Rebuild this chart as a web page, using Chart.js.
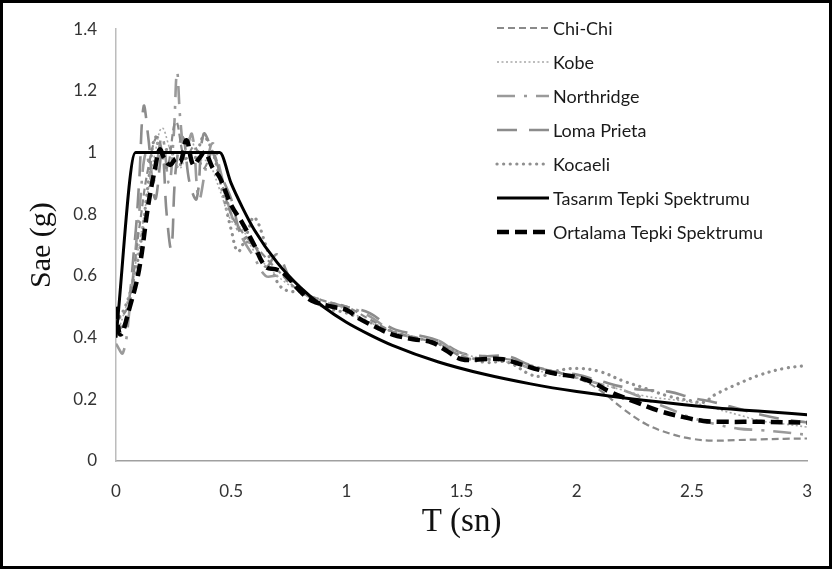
<!DOCTYPE html>
<html>
<head>
<meta charset="utf-8">
<script src="https://cdn.jsdelivr.net/npm/chart.js@4.4.1/dist/chart.umd.min.js"></script>
<style>
  html, body { margin: 0; padding: 0; background: #fff; }
  #wrap { width: 832px; height: 569px; position: relative; }
</style>
</head>
<body>
<div id="wrap"><canvas id="c" width="832" height="569"></canvas></div>
<script>
// ---- Data ----
const xTickLabels = ["0", "0.5", "1", "1.5", "2", "2.5", "3"];
const yTickLabels = ["0", "0.2", "0.4", "0.6", "0.8", "1", "1.2", "1.4"];

const seriesNames = ["Chi-Chi", "Kobe", "Northridge", "Loma Prieta", "Kocaeli",
                     "Tasarım Tepki Spektrumu", "Ortalama Tepki Spektrumu"];

const chiChiT  = [0, 0.05, 0.1, 0.14, 0.18, 0.22, 0.26, 0.3, 0.34, 0.38, 0.42, 0.46, 0.5, 0.55, 0.6, 0.7, 0.8, 0.9, 1.0, 1.1, 1.2, 1.3, 1.4, 1.5, 1.6, 1.7, 1.8, 1.9, 2.0, 2.1, 2.2, 2.3, 2.4, 2.5, 2.6, 2.7, 2.8, 2.9, 3.0];
const chiChiSa = [0.45, 0.5, 0.75, 0.95, 1.05, 0.95, 1.1, 0.98, 1.02, 0.95, 1.0, 0.9, 0.8, 0.74, 0.7, 0.62, 0.55, 0.52, 0.5, 0.46, 0.42, 0.4, 0.38, 0.34, 0.33, 0.33, 0.31, 0.29, 0.27, 0.23, 0.17, 0.12, 0.09, 0.072, 0.066, 0.068, 0.07, 0.072, 0.073];

const kobeT  = [0, 0.05, 0.1, 0.14, 0.17, 0.2, 0.24, 0.28, 0.32, 0.36, 0.4, 0.45, 0.5, 0.55, 0.6, 0.7, 0.8, 0.9, 1.0, 1.1, 1.2, 1.3, 1.4, 1.5, 1.6, 1.7, 1.8, 1.9, 2.0, 2.1, 2.2, 2.3, 2.4, 2.5, 2.6, 2.7, 2.8, 2.9, 3.0];
const kobeSa = [0.4, 0.52, 0.7, 0.88, 1.0, 1.08, 1.0, 0.95, 1.05, 0.98, 0.97, 0.88, 0.78, 0.75, 0.68, 0.6, 0.55, 0.52, 0.49, 0.45, 0.42, 0.4, 0.38, 0.35, 0.33, 0.32, 0.3, 0.28, 0.27, 0.25, 0.23, 0.21, 0.2, 0.19, 0.17, 0.15, 0.13, 0.12, 0.11];

const northridgeT  = [0, 0.03, 0.06, 0.1, 0.13, 0.16, 0.2, 0.23, 0.25, 0.265, 0.28, 0.3, 0.33, 0.36, 0.39, 0.42, 0.45, 0.5, 0.55, 0.6, 0.65, 0.7, 0.75, 0.8, 0.9, 1.0, 1.1, 1.2, 1.3, 1.4, 1.5, 1.6, 1.7, 1.8, 1.9, 2.0, 2.1, 2.2, 2.3, 2.4, 2.5, 2.6, 2.7, 2.8, 2.9, 3.0];
const northridgeSa = [0.38, 0.35, 0.5, 0.8, 1.0, 0.9, 1.05, 0.9, 1.05, 1.26, 1.1, 1.0, 1.06, 0.85, 0.95, 1.03, 0.95, 0.8, 0.72, 0.66, 0.6, 0.6, 0.58, 0.55, 0.51, 0.5, 0.47, 0.42, 0.4, 0.39, 0.34, 0.33, 0.33, 0.3, 0.29, 0.27, 0.25, 0.23, 0.2, 0.17, 0.14, 0.12, 0.105, 0.1, 0.093, 0.085];

const lomaT  = [0, 0.04, 0.08, 0.1, 0.12, 0.14, 0.17, 0.2, 0.22, 0.24, 0.26, 0.29, 0.32, 0.35, 0.38, 0.42, 0.46, 0.5, 0.55, 0.6, 0.65, 0.7, 0.75, 0.8, 0.9, 1.0, 1.1, 1.2, 1.3, 1.4, 1.5, 1.6, 1.7, 1.8, 1.9, 2.0, 2.1, 2.2, 2.3, 2.4, 2.5, 2.6, 2.7, 2.8, 2.9, 3.0];
const lomaSa = [0.42, 0.45, 0.7, 0.9, 1.15, 1.05, 0.85, 1.0, 0.8, 0.69, 0.95, 1.05, 0.9, 0.85, 1.06, 1.0, 0.92, 0.85, 0.72, 0.7, 0.63, 0.67, 0.6, 0.55, 0.52, 0.5, 0.48, 0.43, 0.41, 0.39, 0.35, 0.34, 0.34, 0.31, 0.29, 0.28, 0.26, 0.24, 0.23, 0.225, 0.205, 0.19, 0.17, 0.15, 0.135, 0.125];

const kocaeliT  = [0, 0.04, 0.08, 0.11, 0.14, 0.17, 0.2, 0.23, 0.27, 0.3, 0.34, 0.38, 0.42, 0.46, 0.5, 0.53, 0.57, 0.6, 0.65, 0.7, 0.75, 0.8, 0.9, 1.0, 1.1, 1.2, 1.3, 1.4, 1.5, 1.6, 1.7, 1.8, 1.85, 1.9, 2.0, 2.1, 2.2, 2.3, 2.4, 2.5, 2.55, 2.6, 2.7, 2.8, 2.9, 3.0];
const kocaeliSa = [0.45, 0.5, 0.6, 0.72, 0.9, 1.05, 0.98, 1.02, 0.95, 1.0, 0.98, 1.05, 1.0, 0.88, 0.75, 0.68, 0.74, 0.79, 0.7, 0.58, 0.55, 0.55, 0.5, 0.48, 0.45, 0.42, 0.4, 0.38, 0.34, 0.32, 0.32, 0.28, 0.275, 0.29, 0.3, 0.29, 0.26, 0.235, 0.21, 0.195, 0.19, 0.215, 0.25, 0.28, 0.3, 0.31];

const designT  = [0, 0.085, 0.45, 0.5, 0.55, 0.6, 0.7, 0.8, 0.9, 1.0, 1.1, 1.2, 1.4, 1.6, 1.8, 2.0, 2.2, 2.4, 2.6, 2.8, 3.0];
const designSa = [0.4, 1.0, 1.0, 0.9, 0.82, 0.75, 0.643, 0.563, 0.5, 0.45, 0.41, 0.375, 0.321, 0.281, 0.25, 0.225, 0.205, 0.188, 0.173, 0.161, 0.15];

const meanT  = [0, 0.02, 0.06, 0.1, 0.14, 0.17, 0.19, 0.21, 0.235, 0.26, 0.28, 0.306, 0.335, 0.36, 0.386, 0.42, 0.45, 0.5, 0.55, 0.6, 0.65, 0.7, 0.74, 0.8, 0.85, 0.94, 1.0, 1.06, 1.14, 1.2, 1.29, 1.37, 1.43, 1.5, 1.59, 1.68, 1.75, 1.84, 1.91, 2.0, 2.07, 2.14, 2.26, 2.36, 2.46, 2.55, 2.65, 2.8, 3.0];
const meanSa = [0.5, 0.41, 0.5, 0.62, 0.83, 0.95, 1.01, 0.98, 0.96, 0.98, 0.97, 1.04, 0.96, 0.98, 1.0, 0.95, 0.92, 0.83, 0.77, 0.7, 0.63, 0.62, 0.6, 0.55, 0.52, 0.5, 0.49, 0.46, 0.43, 0.41, 0.395, 0.385, 0.36, 0.33, 0.33, 0.33, 0.315, 0.295, 0.283, 0.272, 0.255, 0.226, 0.19, 0.162, 0.143, 0.13, 0.127, 0.127, 0.124];

// ---- Build datasets ----
function pts(t, s) { return t.map((v, i) => ({ x: v, y: s[i] })); }

const datasets = [
  { label: seriesNames[0], data: pts(chiChiT, chiChiSa), borderColor: '#8a8a8a', borderWidth: 2.2, borderDash: [7, 4], tension: 0.4, order: 2 },
  { label: seriesNames[1], data: pts(kobeT, kobeSa), borderColor: '#a8a8a8', borderWidth: 1.6, borderDash: [2, 2.5], tension: 0.4, order: 2 },
  { label: seriesNames[2], data: pts(northridgeT, northridgeSa), borderColor: '#9a9a9a', borderWidth: 2.6, borderDash: [18, 9, 3, 9], tension: 0.4, order: 2 },
  { label: seriesNames[3], data: pts(lomaT, lomaSa), borderColor: '#8c8c8c', borderWidth: 2.6, borderDash: [20, 12], tension: 0.4, order: 2 },
  { label: seriesNames[4], data: pts(kocaeliT, kocaeliSa), borderColor: '#8f8f8f', borderWidth: 3.2, borderDash: [0.1, 6.5], borderCapStyle: 'round', tension: 0.4, order: 2 },
  { label: seriesNames[5], data: pts(designT, designSa), borderColor: '#000000', borderWidth: 3, borderDash: [], tension: 0.4, cubicInterpolationMode: 'monotone', order: 1 },
  { label: seriesNames[6], data: pts(meanT, meanSa), borderColor: '#000000', borderWidth: 4.5, borderDash: [12, 6], tension: 0.4, order: 0 }
];
datasets.forEach(d => { d.pointRadius = 0; d.fill = false; if (!d.borderCapStyle) d.borderCapStyle = 'butt'; });

// ---- Custom vertical legend + frame ----
const legendAndFrame = {
  id: 'legendAndFrame',
  afterDraw(chart) {
    const ctx = chart.ctx;
    ctx.save();
    const x0 = 497, x1 = 549, tx = 553;
    const ys = [28, 62, 96, 130, 164, 198, 232];
    ctx.font = '18px Lato';
    ctx.textBaseline = 'middle';
    ctx.textAlign = 'left';
    chart.data.datasets.forEach((d, i) => {
      const y = ys[i];
      ctx.beginPath();
      ctx.strokeStyle = d.borderColor;
      ctx.lineWidth = d.borderWidth;
      ctx.lineCap = d.borderCapStyle || 'butt';
      ctx.setLineDash(d.borderDash || []);
      ctx.moveTo(x0, y);
      ctx.lineTo(x1, y);
      ctx.stroke();
      ctx.setLineDash([]);
      ctx.fillStyle = '#1a1a1a';
      ctx.fillText(d.label, tx, y + 1);
    });
    ctx.lineWidth = 3;
    ctx.strokeStyle = '#000';
    ctx.strokeRect(1.5, 1.5, 829, 566);
    ctx.restore();
  }
};

new Chart(document.getElementById('c'), {
  type: 'line',
  data: { datasets },
  options: {
    responsive: false,
    animation: false,
    layout: { padding: { left: 0, right: 24, top: 21, bottom: 0 } },
    plugins: { legend: { display: false }, tooltip: { enabled: false } },
    scales: {
      x: {
        type: 'linear', min: 0, max: 3,
        afterFit: s => { s.height = 108; },
        grid: { display: false, drawTicks: false },
        border: { display: true, color: '#a0a0a0', width: 1.5 },
        ticks: { stepSize: 0.5, padding: 20, color: '#333', font: { family: 'Lato', size: 17 },
                 maxRotation: 0, callback: (v, i) => xTickLabels[i] },
        title: { display: true, text: 'T (sn)', color: '#111', font: { family: 'Liberation Serif', size: 33, lineHeight: 1.2 },
                 padding: { top: 0, bottom: 27 } }
      },
      y: {
        min: 0, max: 1.4,
        afterFit: s => { s.width = 116; },
        grid: { display: false, drawTicks: false },
        border: { display: true, color: '#bcbcbc', width: 1.5 },
        ticks: { stepSize: 0.2, padding: 19, color: '#333', font: { family: 'Lato', size: 17 },
                 callback: (v, i) => yTickLabels[i] },
        title: { display: true, text: 'Sae (g)', color: '#111', font: { family: 'Liberation Serif', size: 30, lineHeight: 1.2 },
                 padding: { top: 24, bottom: 0 } }
      }
    }
  },
  plugins: [legendAndFrame]
});
</script>
</body>
</html>
